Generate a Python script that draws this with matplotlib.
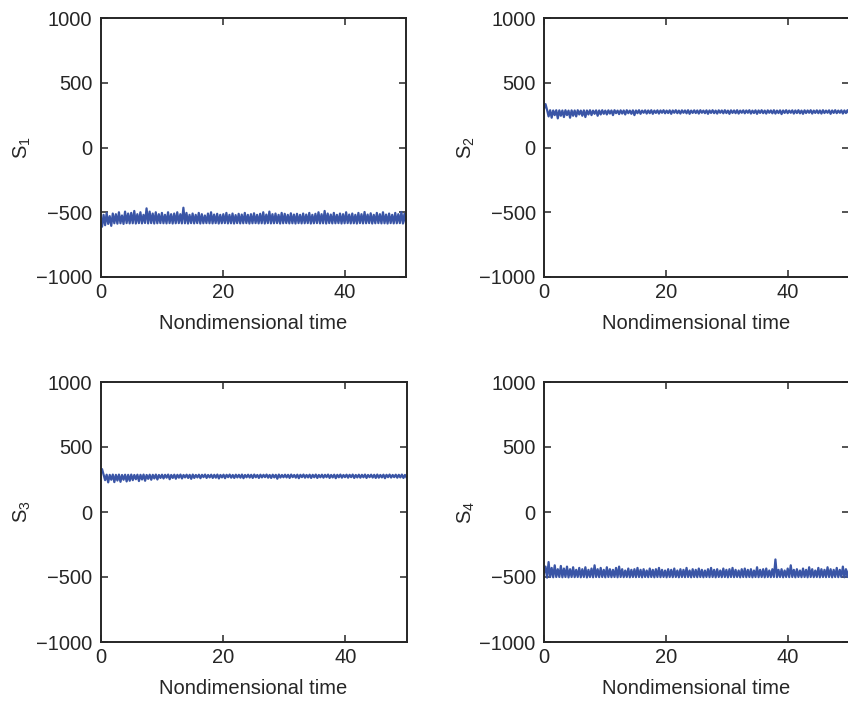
import numpy as np
import matplotlib
matplotlib.use("Agg")
import matplotlib.pyplot as plt

plt.rcParams['font.family'] = ['Liberation Sans', 'DejaVu Sans']
plt.rcParams['mathtext.default'] = 'regular'

s1 = [-575,-612,-520,-600,-505,-590,-530,-605,-510,-585,
      -515,-588,-500,-585,-525,-590,-495,-584,-510,-586,
      -505,-585,-490,-587,-515,-584,-500,-586,-520,-583,
      -470,-586,-495,-584,-510,-587,-500,-585,-515,-584,
      -505,-585,-520,-586,-500,-584,-515,-587,-510,-585,
      -500,-584,-515,-586,-465,-585,-505,-587,-520,-584,
      -510,-586,-520,-584,-505,-587,-515,-585,-525,-584,
      -510,-585,-500,-586,-518,-584,-512,-587,-520,-585,
      -515,-584,-505,-586,-520,-585,-510,-587,-522,-584,
      -512,-586,-518,-585,-505,-584,-520,-587,-515,-585,
      -508,-584,-520,-586,-512,-585,-500,-587,-518,-584,
      -495,-586,-515,-585,-510,-584,-520,-587,-505,-585,
      -512,-584,-520,-586,-508,-585,-518,-587,-512,-584,
      -520,-586,-510,-585,-518,-584,-505,-587,-520,-585,
      -512,-584,-500,-586,-515,-585,-490,-587,-510,-584,
      -518,-586,-505,-585,-520,-584,-510,-587,-515,-585,
      -500,-584,-518,-586,-510,-585,-520,-587,-505,-584,
      -515,-586,-498,-585,-518,-584,-508,-587,-520,-585,
      -505,-584,-515,-586,-500,-585,-518,-587,-510,-584,
      -520,-586,-505,-585,-515,-584,-498,-587,-512,-585]

s2 = [300,335,290,240,288,230,286,250,288,225,
      287,245,286,235,288,250,285,230,287,245,
      286,240,288,255,285,245,287,235,286,255,
      288,250,285,260,287,245,286,255,288,260,
      285,255,287,262,286,250,288,265,285,258,
      287,262,286,255,288,265,285,260,287,250,
      286,265,288,260,285,268,287,262,286,265,
      288,260,285,267,287,262,286,268,288,264,
      285,266,287,260,286,268,288,265,285,262,
      287,268,286,264,288,260,285,267,287,266,
      286,262,288,268,285,265,287,260,286,267,
      288,265,285,262,287,268,286,264,288,266,
      285,260,287,267,286,265,288,262,285,268,
      287,264,286,268,288,262,285,266,287,260,
      286,267,288,265,285,262,287,268,286,264,
      288,262,285,266,287,258,286,267,288,265,
      285,268,287,262,286,266,288,264,285,260,
      287,266,286,268,288,262,285,267,287,265,
      286,262,288,266,285,268,287,260,286,267,
      288,265,285,268,287,262,286,266,288,264]

s3 = [295,330,288,245,287,228,286,248,288,230,
      286,242,288,232,285,248,287,235,286,240,
      288,245,285,252,287,238,286,250,288,240,
      285,255,287,248,286,258,288,250,285,262,
      287,258,286,264,288,252,285,262,287,256,
      286,264,288,258,285,266,287,262,286,255,
      288,262,285,266,287,260,286,268,288,262,
      285,266,287,262,286,264,288,258,285,266,
      287,260,286,268,288,264,285,262,287,266,
      286,264,288,260,285,267,287,265,286,262,
      288,267,285,262,287,266,286,268,288,264,
      285,262,287,266,286,256,288,265,285,267,
      287,266,286,262,288,268,285,264,287,260,
      286,268,288,264,285,266,287,262,286,267,
      288,262,285,267,287,264,286,268,288,262,
      285,266,287,260,286,267,288,264,285,268,
      287,264,286,268,288,262,285,266,287,264,
      286,267,288,262,285,268,287,265,286,262,
      288,264,285,266,287,260,286,268,288,265,
      285,268,287,264,286,266,288,262,285,266]

s4 = [-470,-420,-505,-385,-500,-430,-502,-410,-500,-440,
      -500,-415,-502,-435,-500,-420,-503,-440,-500,-425,
      -501,-445,-500,-430,-502,-440,-500,-425,-503,-445,
      -500,-435,-502,-410,-500,-440,-501,-430,-500,-445,
      -502,-425,-500,-440,-501,-445,-500,-430,-502,-420,
      -500,-440,-501,-450,-500,-435,-502,-445,-500,-440,
      -501,-430,-500,-445,-502,-440,-500,-450,-501,-435,
      -500,-445,-502,-440,-500,-430,-501,-445,-500,-450,
      -502,-440,-500,-445,-501,-435,-500,-450,-502,-440,
      -500,-445,-501,-430,-500,-450,-502,-440,-500,-445,
      -501,-435,-500,-445,-502,-450,-500,-440,-501,-430,
      -500,-445,-502,-440,-500,-450,-501,-435,-500,-445,
      -502,-440,-500,-430,-501,-445,-500,-450,-502,-440,
      -500,-435,-501,-445,-500,-440,-502,-450,-500,-425,
      -501,-445,-500,-440,-502,-435,-500,-450,-501,-440,
      -500,-365,-501,-445,-500,-440,-502,-450,-500,-435,
      -501,-410,-500,-445,-502,-440,-500,-450,-501,-435,
      -500,-445,-502,-425,-500,-440,-501,-450,-500,-430,
      -502,-440,-500,-445,-501,-425,-500,-440,-502,-445,
      -500,-430,-501,-445,-500,-420,-502,-440,-500,-445]

series = [s1, s2, s3, s4]
ylabels = ['S$_1$', 'S$_2$', 'S$_3$', 'S$_4$']
xticks = [0, 20, 40]
yticks = [-1000, -500, 0, 500, 1000]
t_end = 50

W, H = 848, 708
fig = plt.figure(figsize=(W/100, H/100), dpi=100)
rects = [(100.5, 18, 305.5, 259), (544, 18, 305, 259),
         (100.5, 382, 306, 260), (544, 382, 305, 260)]
color = '#3a55a6'
spc = '#262626'
for s, lab, (x, y, w, h) in zip(series, ylabels, rects):
    ax = fig.add_axes([x/W, 1-(y+h)/H, w/W, h/H])
    t = np.linspace(0, t_end, len(s))
    ax.plot(t, s, color=color, lw=1.6)
    ax.set_xlim(0, t_end)
    ax.set_ylim(-1000, 1000)
    ax.set_xticks(xticks)
    ax.set_yticks(yticks)
    ax.tick_params(direction='in', top=True, right=True, length=5, width=1.1,
                   labelsize=14.5, colors=spc, pad=6)
    ax.tick_params(axis='x', pad=4)
    for sp in ax.spines.values():
        sp.set_linewidth(1.4)
        sp.set_color(spc)
    ax.set_xlabel('Nondimensional time', fontsize=14.5, color=spc, labelpad=9)
    ax.set_ylabel(lab, fontsize=14.5, color=spc, labelpad=2)

fig.savefig('out.png', dpi=100)
